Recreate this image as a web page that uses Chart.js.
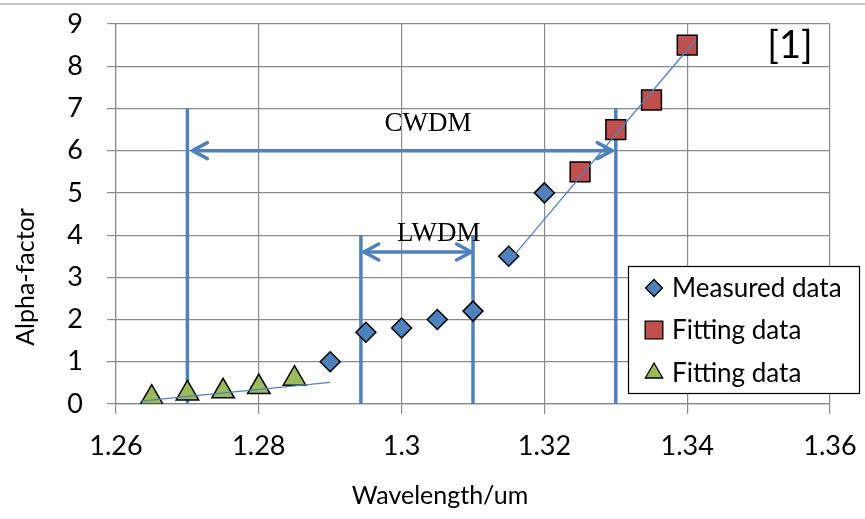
<!DOCTYPE html>
<html>
<head>
<meta charset="utf-8">
<script src="https://cdn.jsdelivr.net/npm/chart.js@4/dist/chart.umd.min.js"></script>
<style>
  body { margin: 0; background: #fff; }
  #wrap { position: relative; width: 865px; height: 519px; }
  #topline { position: absolute; left: 0; top: 3px; width: 865px; height: 0; border-top: 2px solid #c8c8c8; }
  canvas { position: absolute; left: 0; top: 0; }
</style>
</head>
<body>
<div id="wrap">
  <canvas id="alphaChart" width="865" height="519"></canvas>
  <div id="topline"></div>
</div>
<script>
// tick labels
const xTickValues = [1.26, 1.28, 1.3, 1.32, 1.34, 1.36];
const yTickValues = [0, 1, 2, 3, 4, 5, 6, 7, 8, 9];

// measured points
const measuredWl = [1.29, 1.295, 1.3, 1.305, 1.31, 1.315, 1.32];
const measuredAlpha = [1.0, 1.7, 1.8, 2.0, 2.2, 3.5, 5.0];

// fitting data (upper, red squares)
const fitHighWl = [1.325, 1.33, 1.335, 1.34];
const fitHighAlpha = [5.5, 6.5, 7.2, 8.5];

// fitting data (lower, green triangles)
const fitLowWl = [1.265, 1.27, 1.275, 1.28, 1.285];
const fitLowAlpha = [0.15, 0.25, 0.3, 0.4, 0.6];

// trend lines (start / end)
const trendLowWl = [1.2634, 1.29];
const trendLowAlpha = [0.07, 0.51];
const trendHighWl = [1.3158, 1.3411];
const trendHighAlpha = [3.53, 8.61];

// band limits and arrows
const cwdmEdges = [1.27, 1.33];
const cwdmTop = 7;
const lwdmEdges = [1.2943, 1.31];
const lwdmTop = 4;
const cwdmArrowWl = [1.2707, 1.3295];
const cwdmArrowAlpha = 6;
const lwdmArrowWl = [1.2947, 1.3098];
const lwdmArrowAlpha = 3.6;

// text labels
const bandLabels = ['CWDM', 'LWDM'];
const bandLabelWl = [1.3037, 1.3052];
const bandLabelAlpha = [6.7, 4.1];

const BLUE = '#4F81BD';
const RED = '#C0504D';
const GREEN = '#9BBB59';
const FONT = 'Lato, "Open Sans", sans-serif';

function pts(xs, ys) {
    return xs.map((x, i) => ({ x: x, y: ys[i] }));
}

let datasets = [
    {
        label: 'trendLow', data: pts(trendLowWl, trendLowAlpha), showLine: true,
        borderColor: BLUE, borderWidth: 1.3, pointRadius: 0, order: 0, helper: true
    },
    {
        label: 'trendHigh', data: pts(trendHighWl, trendHighAlpha), showLine: true,
        borderColor: BLUE, borderWidth: 1.3, pointRadius: 0, order: 0, helper: true
    },
    {
        label: 'Measured data', data: pts(measuredWl, measuredAlpha),
        pointStyle: 'rectRot', pointRadius: 10, pointBackgroundColor: BLUE,
        pointBorderColor: '#000', pointBorderWidth: 1.5, showLine: false, order: 1
    },
    {
        label: 'Fitting data', data: pts(fitHighWl, fitHighAlpha),
        pointStyle: 'rect', pointRadius: 14, pointBackgroundColor: RED,
        pointBorderColor: '#000', pointBorderWidth: 1.5, showLine: false, order: 1
    },
    {
        label: 'Fitting data', data: pts(fitLowWl, fitLowAlpha),
        pointStyle: 'triangle', pointRadius: 13, pointBackgroundColor: GREEN,
        pointBorderColor: '#000', pointBorderWidth: 1.5, showLine: false, order: 1
    }
];

// vertical band edges
cwdmEdges.forEach(wl => {
    datasets.push({
        label: 'edge', data: pts([wl, wl], [0, cwdmTop]), showLine: true,
        borderColor: BLUE, borderWidth: 3.5, pointRadius: 0, order: 2, helper: true
    });
});
lwdmEdges.forEach(wl => {
    datasets.push({
        label: 'edge', data: pts([wl, wl], [0, lwdmTop]), showLine: true,
        borderColor: BLUE, borderWidth: 3.5, pointRadius: 0, order: 2, helper: true
    });
});

// double arrows
datasets.push({
    label: 'arrow', data: pts(cwdmArrowWl, [cwdmArrowAlpha, cwdmArrowAlpha]), showLine: true,
    borderColor: BLUE, borderWidth: 3.5, pointRadius: 0, order: 2, helper: true, arrow: true
});
datasets.push({
    label: 'arrow', data: pts(lwdmArrowWl, [lwdmArrowAlpha, lwdmArrowAlpha]), showLine: true,
    borderColor: BLUE, borderWidth: 3.5, pointRadius: 0, order: 2, helper: true, arrow: true
});

const extrasPlugin = {
    id: 'extras',
    afterDatasetsDraw(chart) {
        let ctx = chart.ctx;
        // arrow heads
        chart.data.datasets.forEach((ds, i) => {
            if (!ds.arrow) return;
            let meta = chart.getDatasetMeta(i);
            let a = meta.data[0], b = meta.data[meta.data.length - 1];
            ctx.save();
            ctx.strokeStyle = BLUE;
            ctx.lineWidth = 3.5;
            ctx.lineCap = 'round';
            ctx.lineJoin = 'round';
            ctx.beginPath();
            ctx.moveTo(a.x + 15, a.y - 8); ctx.lineTo(a.x, a.y); ctx.lineTo(a.x + 15, a.y + 8);
            ctx.moveTo(b.x - 15, b.y - 8); ctx.lineTo(b.x, b.y); ctx.lineTo(b.x - 15, b.y + 8);
            ctx.stroke();
            ctx.restore();
        });

        let xs = chart.scales.x, ys = chart.scales.y;
        ctx.save();
        ctx.fillStyle = '#000';
        ctx.font = '27px "Liberation Serif", "Times New Roman", serif';
        ctx.textAlign = 'center';
        ctx.textBaseline = 'middle';
        bandLabels.forEach((t, i) => {
            ctx.fillText(t, xs.getPixelForValue(bandLabelWl[i]), ys.getPixelForValue(bandLabelAlpha[i]) + 3);
        });

        // reference tag
        let area = chart.chartArea;
        ctx.font = '38px ' + FONT;
        ctx.fillText('[1]', area.right - 40, area.top + 22);

        // axis titles
        ctx.font = '25px ' + FONT;
        ctx.fillText('Wavelength/um', 440, 496);
        ctx.translate(26, 277);
        ctx.rotate(-Math.PI / 2);
        ctx.fillText('Alpha-factor', 0, 0);
        ctx.restore();

        // legend
        ctx.save();
        let lx = 628, ly = 266, lw = 231, lh = 127;
        ctx.fillStyle = '#fff';
        ctx.fillRect(lx, ly, lw, lh);
        ctx.strokeStyle = '#000';
        ctx.lineWidth = 1.2;
        ctx.strokeRect(lx + 0.5, ly + 0.5, lw, lh);
        let rows = [288, 330, 373];
        let legendSets = chart.data.datasets.filter(d => !d.helper);
        let radii = [8.5, 12.5, 10];
        legendSets.forEach((ds, i) => {
            ctx.fillStyle = ds.pointBackgroundColor;
            ctx.strokeStyle = '#000';
            ctx.lineWidth = 1.3;
            Chart.helpers.drawPoint(ctx, { pointStyle: ds.pointStyle, radius: radii[i], rotation: 0, borderWidth: 1.3 }, 654, rows[i]);
            ctx.fillStyle = '#000';
            ctx.font = '26px ' + FONT;
            ctx.textAlign = 'left';
            ctx.textBaseline = 'middle';
            ctx.fillText(ds.label, 672, rows[i] + 1);
        });
        ctx.restore();
    }
};

function noPad(s) {
    s.paddingTop = 0; s.paddingBottom = 0; s.paddingLeft = 0; s.paddingRight = 0;
}

new Chart(document.getElementById('alphaChart').getContext('2d'), {
    type: 'scatter',
    data: { datasets: datasets },
    options: {
        responsive: false,
        animation: false,
        layout: { padding: { left: 0, right: 35, top: 24, bottom: 0 } },
        plugins: { legend: { display: false }, tooltip: { enabled: false } },
        scales: {
            x: {
                type: 'linear', min: 1.26, max: 1.36,
                afterFit: s => { s.height = 115; noPad(s); },
                afterBuildTicks: s => { s.ticks = xTickValues.map(v => ({ value: v })); },
                grid: { color: '#8a8a8a', lineWidth: 1.2, tickLength: 10, drawTicks: true },
                border: { color: '#8a8a8a', width: 1.2 },
                ticks: {
                    padding: 16, color: '#000', font: { family: FONT, size: 27 },
                    maxRotation: 0, autoSkip: false,
                    callback: v => String(Number(v.toFixed(2)))
                }
            },
            y: {
                type: 'linear', min: 0, max: 9,
                afterFit: s => { s.width = 116; noPad(s); },
                afterBuildTicks: s => { s.ticks = yTickValues.map(v => ({ value: v })); },
                grid: { color: '#8a8a8a', lineWidth: 1.2, tickLength: 9, drawTicks: true },
                border: { color: '#8a8a8a', width: 1.2 },
                ticks: { padding: 24, color: '#000', font: { family: FONT, size: 27 } }
            }
        }
    },
    plugins: [extrasPlugin]
});
</script>
</body>
</html>
